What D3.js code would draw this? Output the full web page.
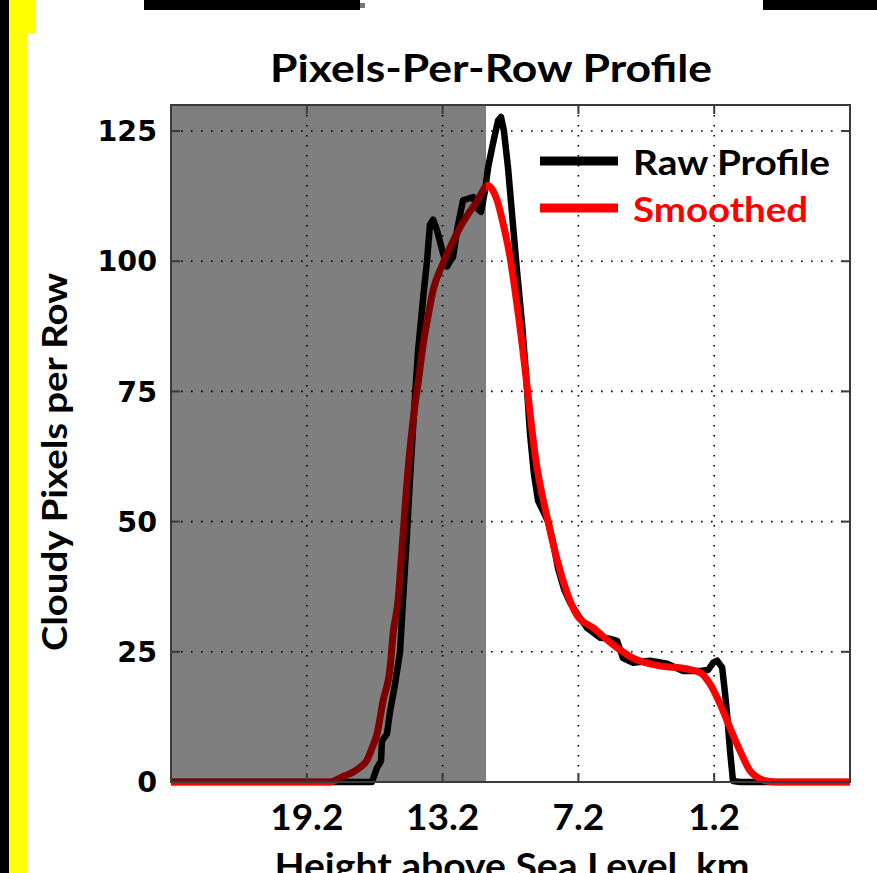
<!DOCTYPE html>
<html>
<head>
<meta charset="utf-8">
<script src="https://cdn.jsdelivr.net/npm/d3@7/dist/d3.min.js"></script>
<style>
  html, body { margin: 0; padding: 0; background: #fff; }
  svg { display: block; }
</style>
</head>
<body>
<script>
// Cloud-top profile: number of cloudy pixels in each image row, against height.
const rawHeight = [25.2, 16.63, 16.32, 16.10, 15.92, 15.88, 15.66, 15.52, 15.30, 15.08, 14.95, 14.77, 14.59, 14.42, 14.28, 14.06, 13.89, 13.76, 13.62, 13.45, 13.18, 13.00, 12.87, 12.74, 12.56, 12.30, 12.08, 11.85, 11.63, 11.50, 11.32, 11.19, 10.97, 10.75, 10.62, 10.49, 10.31, 10.09, 9.91, 9.69, 9.51, 9.34, 9.16, 8.98, 8.76, 8.54, 8.32, 8.10, 7.83, 7.57, 7.26, 6.82, 6.24, 5.80, 5.49, 5.23, 4.78, 4.03, 3.28, 2.57, 1.82, 1.47, 1.25, 1.07, 0.85, 0.72, 0.63, 0.50, 0.37, 0.06, -4.8];
const rawCount = [0, 0, 0, 2.7, 4, 7.9, 9.2, 13.6, 18.8, 25, 34.8, 48, 62, 74, 83, 93, 100, 107, 108, 106, 101.5, 99, 100, 100.8, 106, 111.7, 112, 112.3, 110, 109.5, 113.7, 118, 122.7, 127, 127.7, 125, 118, 107, 98, 88, 78, 67, 59, 54, 52, 50, 46, 41, 37, 34.5, 32.3, 29.6, 27.7, 27.5, 27.1, 23.8, 22.9, 23.3, 22.7, 21.3, 21.3, 21.5, 22.9, 23.3, 22, 17, 13, 6, 0.2, 0, 0];

const smoothHeight = [25.2, 18.17, 17.86, 17.51, 17.16, 16.85, 16.54, 16.32, 16.10, 15.83, 15.52, 15.39, 15.17, 14.99, 14.82, 14.64, 14.46, 14.24, 14.06, 13.84, 13.62, 13.18, 12.83, 12.43, 12.08, 11.68, 11.32, 11.24, 10.79, 10.53, 10.22, 10.00, 9.69, 9.47, 9.12, 8.54, 8.10, 7.57, 7.26, 6.55, 5.49, 4.79, 3.59, 2.40, 1.82, 1.38, 0.94, 0.50, 0.06, -0.39, -0.83, -1.27, -1.71, -4.8];
const smoothCount = [0, 0, 0.5, 1.2, 1.9, 2.8, 4.2, 6.5, 9.2, 15.6, 22, 28.4, 34.8, 45, 55, 64, 71, 78, 84, 89.5, 94.4, 99.6, 103, 106.5, 109, 111.5, 114.2, 114.6, 111.7, 107.3, 100.8, 94.4, 84.2, 76, 63, 50, 42, 34.8, 32, 29.6, 25.8, 23.8, 22.3, 21.7, 21, 18.8, 15, 10.4, 6, 2.1, 0.6, 0.1, 0, 0];

const xTicks = [19.2, 13.2, 7.2, 1.2];
const yTicks = [0, 25, 50, 75, 100, 125];
const xDomain = [25.2, -4.8];
const yDomain = [0, 130];
const shadedTop = 11.28;   // heights above this are shaded

const seriesNames = ["Raw Profile", "Smoothed"];
const seriesColors = ["#000000", "#ff0000"];

const W = 877, H = 873;
const plot = { left: 171, right: 850, top: 105, bottom: 782 };

const svg = d3.select("body").append("svg")
  .attr("width", W).attr("height", H);

// page decoration along the edges
svg.append("rect").attr("x", 0).attr("y", 0).attr("width", 9).attr("height", H).attr("fill", "#000");
svg.append("rect").attr("x", 9).attr("y", 0).attr("width", 27).attr("height", 33).attr("fill", "#ffff00");
svg.append("rect").attr("x", 9).attr("y", 33).attr("width", 19).attr("height", H - 33).attr("fill", "#ffff00");
svg.append("rect").attr("x", 144).attr("y", 0).attr("width", 216).attr("height", 10).attr("fill", "#000");
svg.append("rect").attr("x", 360).attr("y", 3).attr("width", 5).attr("height", 5).attr("fill", "#777");
svg.append("rect").attr("x", 763).attr("y", 0).attr("width", 114).attr("height", 10).attr("fill", "#000");

const x = d3.scaleLinear().domain(xDomain).range([plot.left, plot.right]);
const y = d3.scaleLinear().domain(yDomain).range([plot.bottom, plot.top]);

const g = svg.append("g");

// dotted grid
const grid = g.append("g").attr("stroke", "#000").attr("stroke-width", 1.6)
  .attr("stroke-dasharray", "1.6,8.4");
grid.selectAll("line.gx").data(xTicks).join("line")
  .attr("x1", d => x(d)).attr("x2", d => x(d))
  .attr("y1", plot.top).attr("y2", plot.bottom);
grid.selectAll("line.gy").data(yTicks.filter(d => d > 0)).join("line")
  .attr("x1", plot.left).attr("x2", plot.right)
  .attr("y1", d => y(d)).attr("y2", d => y(d));

// profiles
const raw = rawHeight.map((h, i) => [h, rawCount[i]]);
const smooth = smoothHeight.map((h, i) => [h, smoothCount[i]]);

const rawLine = d3.line().x(d => x(d[0])).y(d => y(d[1]));
const smoothLine = d3.line().x(d => x(d[0])).y(d => y(d[1])).curve(d3.curveMonotoneX);

g.append("path").datum(raw).attr("d", rawLine)
  .attr("fill", "none").attr("stroke", seriesColors[0]).attr("stroke-width", 6.5)
  .attr("stroke-linejoin", "round");
g.append("path").datum(smooth).attr("d", smoothLine)
  .attr("fill", "none").attr("stroke", seriesColors[1]).attr("stroke-width", 7)
  .attr("stroke-linejoin", "round");

// translucent shading over the high-altitude part
g.append("rect")
  .attr("x", plot.left).attr("y", plot.top)
  .attr("width", x(shadedTop) - plot.left).attr("height", plot.bottom - plot.top)
  .attr("fill", "#000").attr("fill-opacity", 0.5);

// axes box with inward ticks on all four sides
const box = g.append("g").attr("stroke", "#3a3a3a").attr("stroke-width", 2);
box.append("rect").attr("x", plot.left).attr("y", plot.top)
  .attr("width", plot.right - plot.left).attr("height", plot.bottom - plot.top)
  .attr("fill", "none");
const tl = 9;
box.selectAll("line.tb").data(xTicks).join("line")
  .attr("x1", d => x(d)).attr("x2", d => x(d)).attr("y1", plot.bottom).attr("y2", plot.bottom - tl);
box.selectAll("line.tt").data(xTicks).join("line")
  .attr("x1", d => x(d)).attr("x2", d => x(d)).attr("y1", plot.top).attr("y2", plot.top + tl);
box.selectAll("line.tl").data(yTicks).join("line")
  .attr("x1", plot.left).attr("x2", plot.left + tl).attr("y1", d => y(d)).attr("y2", d => y(d));
box.selectAll("line.tr").data(yTicks).join("line")
  .attr("x1", plot.right).attr("x2", plot.right - tl).attr("y1", d => y(d)).attr("y2", d => y(d));

// tick labels
svg.append("g").selectAll("text").data(yTicks).join("text")
  .attr("x", 157).attr("y", d => y(d)).attr("dy", "0.36em")
  .attr("text-anchor", "end")
  .attr("font-family", "DejaVu Sans").attr("font-weight", "bold").attr("font-size", 28.5)
  .text(d => d);

svg.append("g").selectAll("text").data(xTicks).join("text")
  .attr("x", d => x(d)).attr("y", 830)
  .attr("text-anchor", "middle")
  .attr("font-family", "Lato").attr("font-weight", "bold").attr("font-size", 37)
  .text(d => d.toFixed(1));

// titles
const label = (t, xx, yy, size, len, anchor) => svg.append("text")
  .attr("x", xx).attr("y", yy).attr("text-anchor", anchor || "middle")
  .attr("font-family", "Lato").attr("font-weight", "bold").attr("font-size", size)
  .attr("textLength", len).attr("lengthAdjust", "spacingAndGlyphs")
  .text(t);

label("Pixels-Per-Row Profile", 491, 82, 38, 442);
label("Height above Sea Level, km", 512, 879, 36, 475);
label("Cloudy Pixels per Row", 0, 0, 34, 378)
  .attr("transform", "translate(67,462) rotate(-90)");

// legend
const legend = svg.append("g");
seriesNames.forEach((name, i) => {
  const ly = 161 + i * 47;
  legend.append("line").attr("x1", 540).attr("x2", 618).attr("y1", ly).attr("y2", ly)
    .attr("stroke", seriesColors[i]).attr("stroke-width", 9);
  legend.append("text").attr("x", 633).attr("y", ly + 14)
    .attr("font-family", "Lato").attr("font-weight", "bold").attr("font-size", 34)
    .attr("fill", seriesColors[i])
    .attr("textLength", i === 0 ? 197 : 175).attr("lengthAdjust", "spacingAndGlyphs")
    .text(name);
});
</script>
</body>
</html>
